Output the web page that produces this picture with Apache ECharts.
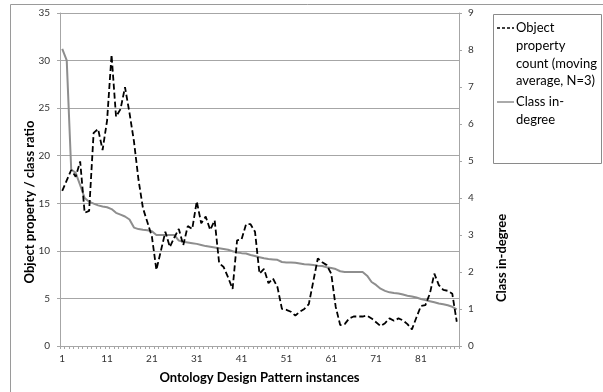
<!DOCTYPE html>
<html><head><meta charset="utf-8">
<script src="https://cdn.jsdelivr.net/npm/echarts@6/dist/echarts.min.js"></script>
<style>html,body{margin:0;padding:0;background:#fff}#c{width:603px;height:392px}</style>
</head><body><div id="c"></div>
<script>
const categories = Array.from({length: 89}, (_, i) => String(i + 1));
const objectPropertyMA = [16.3,17.4,18.5,17.8,19.4,14.0,14.2,22.4,22.8,20.6,
  23.7,30.6,24.1,24.9,27.2,24.5,21.5,17.5,14.5,13.0,
  11.5,8.0,10.0,12.0,10.4,11.4,12.3,10.6,12.6,12.3,
  15.2,12.9,13.6,12.2,13.2,8.7,8.3,7.2,6.0,11.1,
  11.2,12.8,12.8,12.0,7.6,8.1,6.6,7.1,6.2,3.9,
  3.8,3.6,3.2,3.6,3.9,4.4,6.8,9.2,8.8,8.5,
  7.6,4.1,2.2,2.3,2.9,3.1,3.1,3.1,3.2,2.9,
  2.5,2.1,2.4,2.9,2.65,2.9,2.7,2.3,1.75,3.0,
  4.2,4.3,5.5,7.6,6.4,5.9,5.8,5.5,2.55];
const classInDegree = [8.03,7.72,4.77,4.68,4.35,4.0,3.9,3.85,3.8,3.77,
  3.75,3.7,3.6,3.55,3.5,3.42,3.2,3.16,3.14,3.13,
  3.1,3.0,3.0,3.0,3.0,3.0,2.85,2.82,2.8,2.78,
  2.76,2.73,2.7,2.68,2.66,2.64,2.62,2.6,2.56,2.53,
  2.51,2.5,2.46,2.43,2.4,2.37,2.35,2.34,2.33,2.27,
  2.26,2.26,2.25,2.23,2.21,2.2,2.19,2.17,2.16,2.13,
  2.11,2.08,2.02,2.0,2.0,2.0,2.0,2.0,1.9,1.73,
  1.65,1.55,1.49,1.45,1.43,1.42,1.39,1.36,1.34,1.31,
  1.27,1.24,1.21,1.18,1.15,1.13,1.1,1.06,0.99];
const seriesNames = ['Object property count (moving average, N=3)', 'Class in-degree'];
const legendLines1 = ['Object', 'property', 'count (moving', 'average, N=3)'];
const legendLines2 = ['Class in-', 'degree'];
const xTitle = 'Ontology Design Pattern instances';
const yLeftTitle = 'Object property / class ratio';
const yRightTitle = 'Class in-degree';

const FONT = 'Lato, "Open Sans", sans-serif';
const chart = echarts.init(document.getElementById('c'), null, {renderer: 'canvas'});
const axisGray = '#a6a6a6';
const lbl = {color: '#333', fontSize: 10, fontFamily: FONT};

const legendGraphics = [
  {type: 'rect', shape: {x: 493.5, y: 14.5, width: 108, height: 149}, style: {fill: 'none', stroke: '#8a8a8a', lineWidth: 1}},
  {type: 'line', shape: {x1: 497, y1: 28, x2: 514, y2: 28}, style: {stroke: '#000', lineWidth: 1.5, lineDash: [3, 2]}},
  {type: 'line', shape: {x1: 497, y1: 102, x2: 514, y2: 102}, style: {stroke: '#8e8e8e', lineWidth: 1.5}}
];
legendLines1.forEach((t, k) => legendGraphics.push({type: 'text', x: 516, y: 28 + k * 17.7,
  style: {text: t, fill: '#000', font: '13px ' + FONT, textVerticalAlign: 'middle'}}));
legendLines2.forEach((t, k) => legendGraphics.push({type: 'text', x: 516, y: 102 + k * 17.5,
  style: {text: t, fill: '#000', font: '13px ' + FONT, textVerticalAlign: 'middle'}}));

chart.setOption({
  animation: false,
  textStyle: {fontFamily: FONT},
  grid: {left: 60, right: 144, top: 13, bottom: 46, containLabel: false},
  xAxis: {
    type: 'category', data: categories, boundaryGap: true,
    name: xTitle, nameLocation: 'middle', nameGap: 25,
    nameTextStyle: {fontWeight: 'bold', fontSize: 13, color: '#000', fontFamily: FONT},
    axisLine: {lineStyle: {color: axisGray}},
    axisTick: {show: true, interval: 0, length: 3, lineStyle: {color: axisGray}},
    axisLabel: Object.assign({interval: 9, margin: 8}, lbl),
    splitLine: {show: false}
  },
  yAxis: [
    {type: 'value', min: 0, max: 35, interval: 5, position: 'left',
     axisLine: {show: true, lineStyle: {color: axisGray}},
     axisTick: {show: true, length: 3, lineStyle: {color: axisGray}},
     axisLabel: Object.assign({margin: 10}, lbl),
     splitLine: {show: true, lineStyle: {color: '#a6a6a6', width: 1}}},
    {type: 'value', min: 0, max: 9, interval: 1, position: 'right',
     axisLine: {show: true, lineStyle: {color: axisGray}},
     axisTick: {show: true, length: 3, lineStyle: {color: axisGray}},
     axisLabel: Object.assign({margin: 9}, lbl),
     splitLine: {show: false}}
  ],
  series: [
    {name: seriesNames[0], type: 'line', yAxisIndex: 0, data: objectPropertyMA, symbol: 'none',
     lineStyle: {color: '#000', width: 1.8, type: [6, 3]}, itemStyle: {color: '#000'}, z: 3},
    {name: seriesNames[1], type: 'line', yAxisIndex: 1, data: classInDegree, symbol: 'none',
     lineStyle: {color: '#8e8e8e', width: 2}, itemStyle: {color: '#8e8e8e'}, z: 2}
  ],
  graphic: [
    {type: 'rect', shape: {x: 10.5, y: 4.5, width: 600, height: 400}, style: {fill: 'none', stroke: '#9a9a9a', lineWidth: 1}, silent: true},
    {type: 'text', x: 30, y: 202, rotation: Math.PI / 2,
     style: {text: yLeftTitle, fill: '#000', font: 'bold 13px ' + FONT, textAlign: 'center', textVerticalAlign: 'middle'}},
    {type: 'text', x: 502, y: 258, rotation: Math.PI / 2,
     style: {text: yRightTitle, fill: '#000', font: 'bold 13px ' + FONT, textAlign: 'center', textVerticalAlign: 'middle'}}
  ].concat(legendGraphics)
});
</script></body></html>
